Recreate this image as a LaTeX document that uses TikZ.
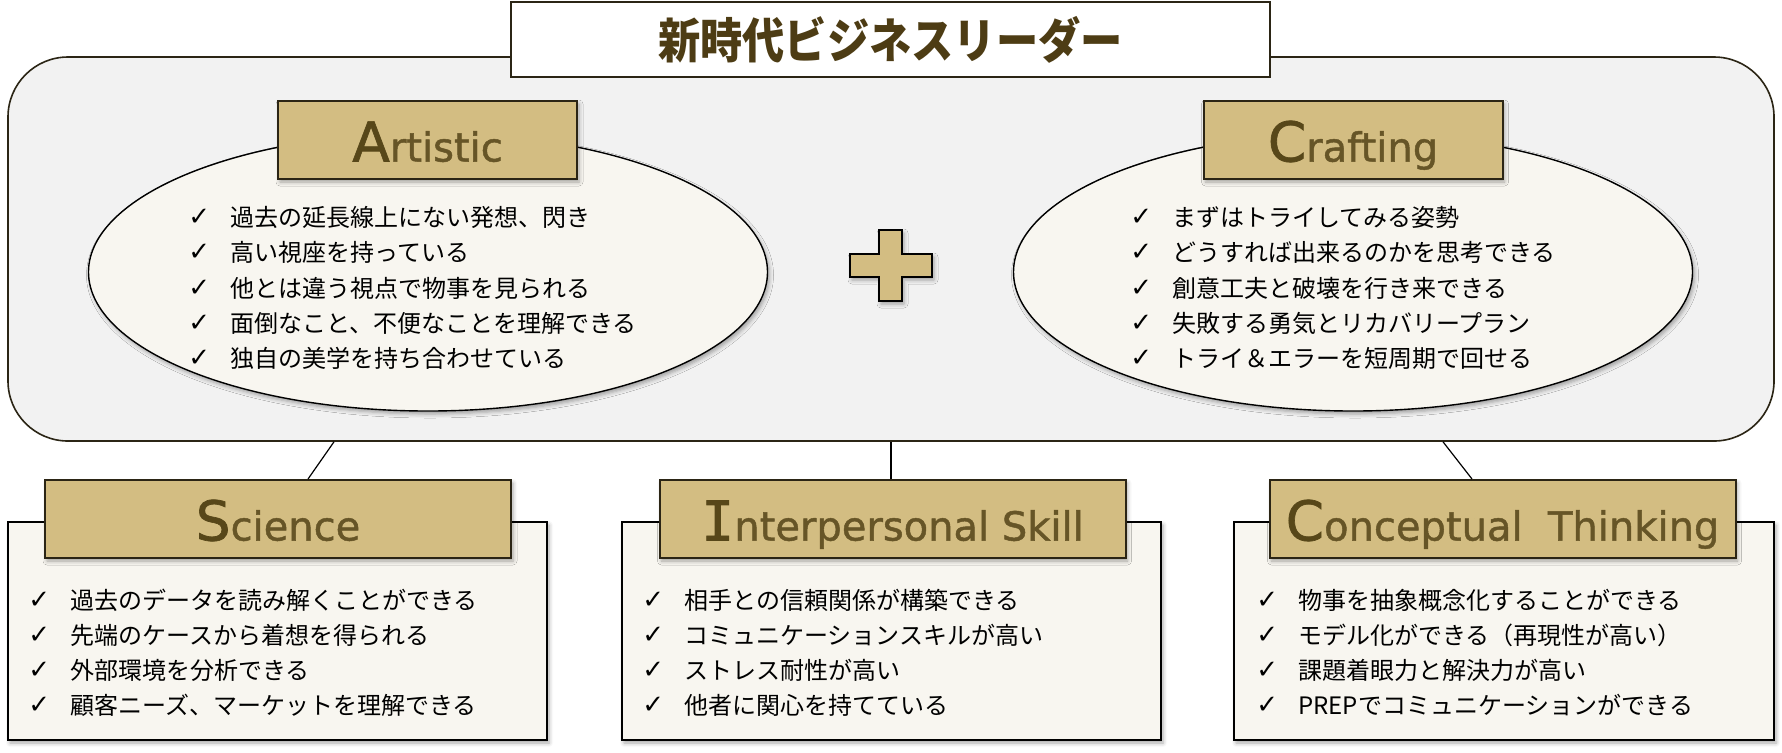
\documentclass[tikz,border=0pt]{standalone}
\usepackage{fontspec}
\usepackage{graphicx}
\usetikzlibrary{shapes.geometric,shadows.blur,calc}
\newfontfamily\jp{Noto Sans CJK JP}
\newfontfamily\dv{DejaVu Sans}
\newfontfamily\dvh{DejaVu Sans}[FakeBold=1.2]
\newfontfamily\dvm{DejaVu Sans Mono}[FakeBold=1.2]
\newfontfamily\dvb{DejaVu Sans Bold}
\definecolor{hdrfill}{HTML}{D3BD82}
\definecolor{edge}{HTML}{2B2515}
\definecolor{outerfill}{HTML}{F2F2F2}
\definecolor{cream}{HTML}{F8F6F0}
\definecolor{bigc}{HTML}{574719}
\definecolor{smallc}{HTML}{665527}
\definecolor{titlec}{HTML}{4D3C14}
\newcommand\ck{\makebox[21pt][l]{\raisebox{0.3pt}{\dv\fontsize{13pt}{13pt}\selectfont ✓}}}
\newcommand\hdtext[2]{{\fontsize{27.5pt}{28pt}\selectfont\color{bigc}#1}{\fontsize{20pt}{20pt}\selectfont\color{smallc}#2}}
\tikzset{
  myshadow/.style={blur shadow={shadow xshift=1pt, shadow yshift=-1.5pt, shadow blur radius=2pt, shadow opacity=35}},
  outerbox/.style={draw=edge, line width=0.8pt, fill=outerfill, rounded corners=30pt, minimum width=883pt, minimum height=192pt, inner sep=0pt},
  titlebox/.style={draw=edge, line width=1pt, fill=white, minimum width=379.5pt, minimum height=37.5pt, inner sep=0pt},
  ell/.style={ellipse, draw=black, line width=0.7pt, fill=cream, inner sep=0pt, minimum width=339.5pt, minimum height=139pt, myshadow},
  hdr/.style={draw=edge, line width=1pt, fill=hdrfill, inner sep=0pt, minimum height=39pt, text height=21.5pt, text depth=0pt, font=\dvh, myshadow},
  bodybox/.style={draw=black, line width=1pt, fill=cream, inner sep=0pt, minimum width=269.5pt, minimum height=109pt, myshadow},
  item/.style={anchor=west, inner sep=0pt, font={\jp\fontsize{12pt}{14pt}\selectfont}, text height=10.5pt, text depth=1.5pt},
  conn/.style={draw=black, line width=0.6pt},
  plusshape/.style={draw=black, line width=1.1pt, fill=hdrfill, line join=miter, myshadow}
}
\begin{document}
\begin{tikzpicture}[x=0.5pt,y=-0.5pt]
\useasboundingbox (0,0) rectangle (1782,752);
% outer panel
\node[outerbox] (outer) at (891,249) {};
% ellipses
\node[ell] (ellA) at (428,272) {};
\node[ell] (ellC) at (1353,272) {};
% ellipse headers
\node[hdr, minimum width=149.5pt] (hA) at (427.5,140) {\hdtext{A}{rtistic}};
\node[hdr, minimum width=149.5pt] (hC) at (1353,140) {\hdtext{C}{rafting}};
% plus
\draw[plusshape] (879,230) -- (902,230) -- (902,254) -- (932,254) -- (932,277) -- (902,277) -- (902,301) -- (879,301) -- (879,277) -- (850,277) -- (850,254) -- (879,254) -- cycle;
% title
\node[titlebox] (title) at (890.5,39.5) {\color{titlec}\jp\bfseries\fontsize{24pt}{24pt}\selectfont\scalebox{0.88}[1]{新時代ビジネスリーダー}};
% Artistic items
\node[item] (a1) at (188,217) {\ck 過去の延長線上にない発想、閃き};
\node[item] (a2) at (188,252) {\ck 高い視座を持っている};
\node[item] (a3) at (188,288) {\ck 他とは違う視点で物事を見られる};
\node[item] (a4) at (188,323) {\ck 面倒なこと、不便なことを理解できる};
\node[item] (a5) at (188,358) {\ck 独自の美学を持ち合わせている};
% Crafting items
\node[item] (c1) at (1130,217) {\ck まずはトライしてみる姿勢};
\node[item] (c2) at (1130,252) {\ck どうすれば出来るのかを思考できる};
\node[item] (c3) at (1130,288) {\ck 創意工夫と破壊を行き来できる};
\node[item] (c4) at (1130,323) {\ck 失敗する勇気とリカバリープラン};
\node[item] (c5) at (1130,358) {\ck トライ＆エラーを短周期で回せる};
% bottom boxes
\node[bodybox] (boxS) at (277.5,631) {};
\node[bodybox] (boxI) at (891.5,631) {};
\node[bodybox, minimum width=270pt] (boxT) at (1504,631) {};
% bottom headers
\node[hdr, minimum width=233pt] (hS) at (278,519) {\hdtext{S}{cience}};
\node[hdr, minimum width=233pt] (hI) at (892.5,519) {\hdtext{{\dvm I}}{nterpersonal Skill}};
\node[hdr, minimum width=233pt] (hT) at (1502.5,519) {\hdtext{C}{onceptual\ \ Thinking}};
% connectors
\coordinate (lx1) at (334,0);
\coordinate (lx2) at (308,0);
\coordinate (rx1) at (1443,0);
\coordinate (rx2) at (1472,0);
\draw[conn] (outer.south -| lx1) -- (hS.north -| lx2);
\draw[conn] (outer.south) -- (outer.south |- hI.north);
\draw[conn] (outer.south -| rx1) -- (hT.north -| rx2);
% Science items
\node[item] (s1) at (28,600) {\ck 過去のデータを読み解くことができる};
\node[item] (s2) at (28,635) {\ck 先端のケースから着想を得られる};
\node[item] (s3) at (28,670) {\ck 外部環境を分析できる};
\node[item] (s4) at (28,705) {\ck 顧客ニーズ、マーケットを理解できる};
% Interpersonal items
\node[item] (i1) at (642,600) {\ck 相手との信頼関係が構築できる};
\node[item] (i2) at (642,635) {\ck コミュニケーションスキルが高い};
\node[item] (i3) at (642,670) {\ck ストレス耐性が高い};
\node[item] (i4) at (642,705) {\ck 他者に関心を持てている};
% Conceptual items
\node[item] (t1) at (1256,600) {\ck 物事を抽象概念化することができる};
\node[item] (t2) at (1256,635) {\ck モデル化ができる（再現性が高い）};
\node[item] (t3) at (1256,670) {\ck 課題着眼力と解決力が高い};
\node[item] (t4) at (1256,705) {\ck PREPでコミュニケーションができる};
\end{tikzpicture}
\end{document}
